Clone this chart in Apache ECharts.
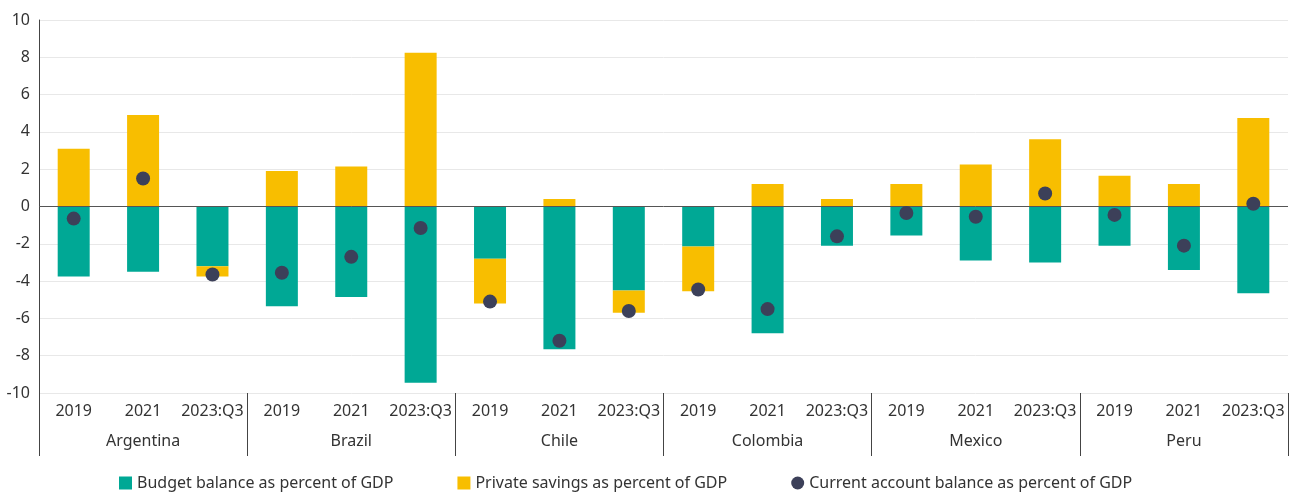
<!DOCTYPE html>
<html>
<head>
<meta charset="utf-8">
<script src="https://cdn.jsdelivr.net/npm/echarts@6/dist/echarts.min.js"></script>
<style>
html, body { margin: 0; padding: 0; background: #fff; }
#chart { width: 1295px; height: 495px; }
</style>
</head>
<body>
<div id="chart"></div>
<script>
// categories
var countries = ['Argentina', 'Brazil', 'Chile', 'Colombia', 'Mexico', 'Peru'];
var periods = ['2019', '2021', '2023:Q3'];
var yearLabels = [];
for (var i = 0; i < countries.length; i++) {
	for (var j = 0; j < periods.length; j++) {
		yearLabels.push(periods[j]);
	}
}
// values, percent of GDP
var budgetBalance = [-3.75, -3.5, -3.2, -5.35, -4.85, -9.45, -2.8, -7.65, -4.5, -2.15, -6.8, -2.1, -1.55, -2.9, -3.0, -2.1, -3.4, -4.65];
var privateSavings = [3.1, 4.9, -0.55, 1.9, 2.15, 8.25, -2.4, 0.4, -1.2, -2.4, 1.2, 0.4, 1.2, 2.25, 3.6, 1.65, 1.2, 4.75];
var currentAccount = [-0.65, 1.5, -3.65, -3.55, -2.7, -1.15, -5.1, -7.2, -5.6, -4.45, -5.5, -1.6, -0.35, -0.55, 0.7, -0.45, -2.1, 0.15];

var textColor = '#333333';
var fontFamily = '"Noto Sans", sans-serif';

var option = {
	animation: false,
	textStyle: { fontFamily: fontFamily },
	grid: { left: 39, right: 7, top: 20, bottom: 102 },
	legend: {
		left: 114,
		top: 470,
		itemWidth: 13,
		itemHeight: 13,
		itemGap: 64,
		textStyle: { color: textColor, fontSize: 16, fontFamily: fontFamily },
		data: [
			{ name: 'Budget balance as percent of GDP', icon: 'rect' },
			{ name: 'Private savings as percent of GDP', icon: 'rect' },
			{ name: 'Current account balance as percent of GDP', icon: 'circle' }
		]
	},
	xAxis: [
		{
			type: 'category',
			data: yearLabels,
			position: 'bottom',
			axisLine: { show: false },
			axisTick: { show: false },
			axisLabel: { interval: 0, margin: 10, fontSize: 16, color: textColor }
		},
		{
			type: 'category',
			data: countries,
			position: 'bottom',
			axisLine: { show: false },
			axisTick: { show: true, interval: 0, length: 63, lineStyle: { color: '#444', width: 1 } },
			axisLabel: { interval: 0, margin: 40, fontSize: 16, color: textColor }
		}
	],
	yAxis: {
		type: 'value',
		min: -10,
		max: 10,
		interval: 2,
		axisLine: { show: true, lineStyle: { color: '#444', width: 1 } },
		axisTick: { show: false },
		axisLabel: { margin: 9, fontSize: 16, color: textColor },
		splitLine: { lineStyle: { color: '#e8e8e8', width: 1 } }
	},
	series: [
		{
			name: 'Budget balance as percent of GDP',
			type: 'bar',
			stack: 'gdp',
			barWidth: 32,
			itemStyle: { color: '#00a895' },
			data: budgetBalance,
			markLine: {
				silent: true,
				symbol: ['none', 'none'],
				label: { show: false },
				lineStyle: { color: '#555', width: 1, type: 'solid' },
				data: [{ yAxis: 0 }]
			}
		},
		{
			name: 'Private savings as percent of GDP',
			type: 'bar',
			stack: 'gdp',
			barWidth: 32,
			itemStyle: { color: '#f8be00' },
			data: privateSavings
		},
		{
			name: 'Current account balance as percent of GDP',
			type: 'scatter',
			symbolSize: 14,
			itemStyle: { color: '#3c4059', opacity: 1 },
			data: currentAccount,
			z: 5
		}
	]
};
echarts.init(document.getElementById('chart')).setOption(option, true);
</script>
</body>
</html>
